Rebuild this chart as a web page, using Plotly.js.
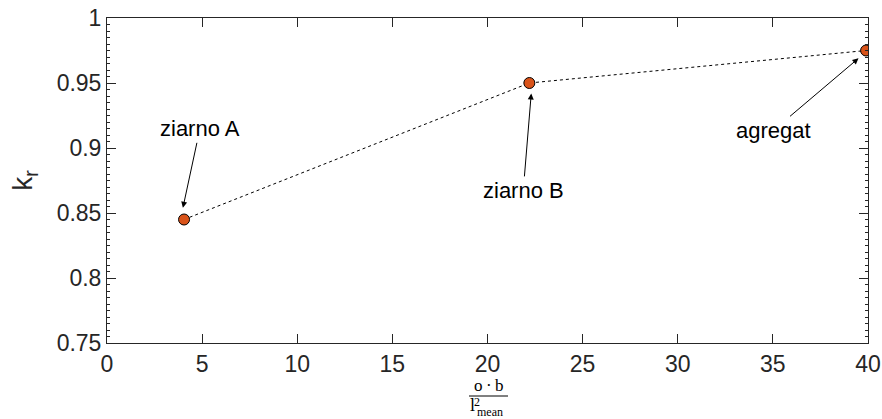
<!DOCTYPE html>
<html><head><meta charset="utf-8">
<script src="https://cdn.plot.ly/plotly-3.0.1.min.js"></script>
<style>body{margin:0;background:#fff}#c{width:882px;height:419px}</style>
</head><body><div id="c"></div>
<script>
const labels = ["ziarno A", "ziarno B", "agregat"];
const xVals = [4.05, 22.2, 39.9];
const yVals = [0.845, 0.95, 0.975];
const xTicks = [0, 5, 10, 15, 20, 25, 30, 35, 40];
const yTicks = [0.75, 0.8, 0.85, 0.9, 0.95, 1];
const yTickText = ["0.75", "0.8", "0.85", "0.9", "0.95", "1"];
// annotation arrow tips (data) and text offsets (px)
const annX = [3.99, 22.3, 39.5];
const annY = [0.854, 0.942, 0.969];
const annAx = [17, -8, -85];
const annAy = [-79, 97, 72];

const font = "Liberation Sans, Arial, sans-serif";
const serif = "Liberation Serif, DejaVu Serif, serif";
const trace = {
  x: xVals, y: yVals, mode: "lines+markers", type: "scatter",
  line: {color: "#000", width: 1, dash: "3px,3px"},
  marker: {size: 11, color: "#D95319", line: {color: "#000", width: 1}},
  hoverinfo: "skip"
};
const annotations = labels.map((t, i) => ({
  x: annX[i], y: annY[i], xref: "x", yref: "y", text: t,
  showarrow: true, ax: annAx[i], ay: annAy[i], arrowhead: 2, arrowsize: 1.2,
  arrowwidth: 1, arrowcolor: "#000", standoff: 0,
  font: {family: font, size: 22, color: "#000"}
}));
function pa(text, px, py, size) {
  return {xref: "paper", yref: "paper", x: (px - 107) / 761, y: (343 - py) / 325,
    xanchor: "center", yanchor: "middle", showarrow: false, text: text, borderpad: 0,
    font: {family: serif, size: size, color: "#000"}};
}
annotations.push(pa("o\u2009·\u2009b", 488, 385, 17));
annotations.push(pa("l", 472, 405, 18));
annotations.push(pa("2", 477, 402, 12));
annotations.push(pa("mean", 490, 411.5, 12));
const layout = {
  width: 882, height: 419,
  margin: {l: 107, r: 14, t: 18, b: 76},
  paper_bgcolor: "#fff", plot_bgcolor: "#fff",
  showlegend: false,
  font: {family: font, size: 23, color: "#262626"},
  xaxis: {range: [0, 40], tickvals: xTicks, ticks: "inside", ticklen: 9, tickcolor: "#262626",
    showline: true, linecolor: "#262626", linewidth: 1, mirror: "ticks", showgrid: false, zeroline: false,
    tickfont: {size: 23, color: "#262626", family: font}},
  yaxis: {range: [0.75, 1], tickvals: yTicks, ticktext: yTickText, ticks: "inside", ticklen: 9, tickcolor: "#262626",
    showline: true, linecolor: "#262626", linewidth: 1, mirror: "ticks", showgrid: false, zeroline: false,
    tickfont: {size: 23, color: "#262626", family: font},
    minor: {dtick: 0.005, ticks: "inside", ticklen: 3, tickcolor: "#262626", showgrid: false},
    title: {text: "k<sub>r</sub>", font: {size: 28, color: "#262626", family: font}, standoff: 15}},
  shapes: [{type: "line", xref: "paper", yref: "paper",
    x0: (469 - 107) / 761, x1: (508 - 107) / 761, y0: (343 - 396) / 325, y1: (343 - 396) / 325,
    line: {color: "#000", width: 1}}],
  annotations: annotations
};
Plotly.newPlot("c", [trace], layout, {staticPlot: true, displayModeBar: false});
</script></body></html>
